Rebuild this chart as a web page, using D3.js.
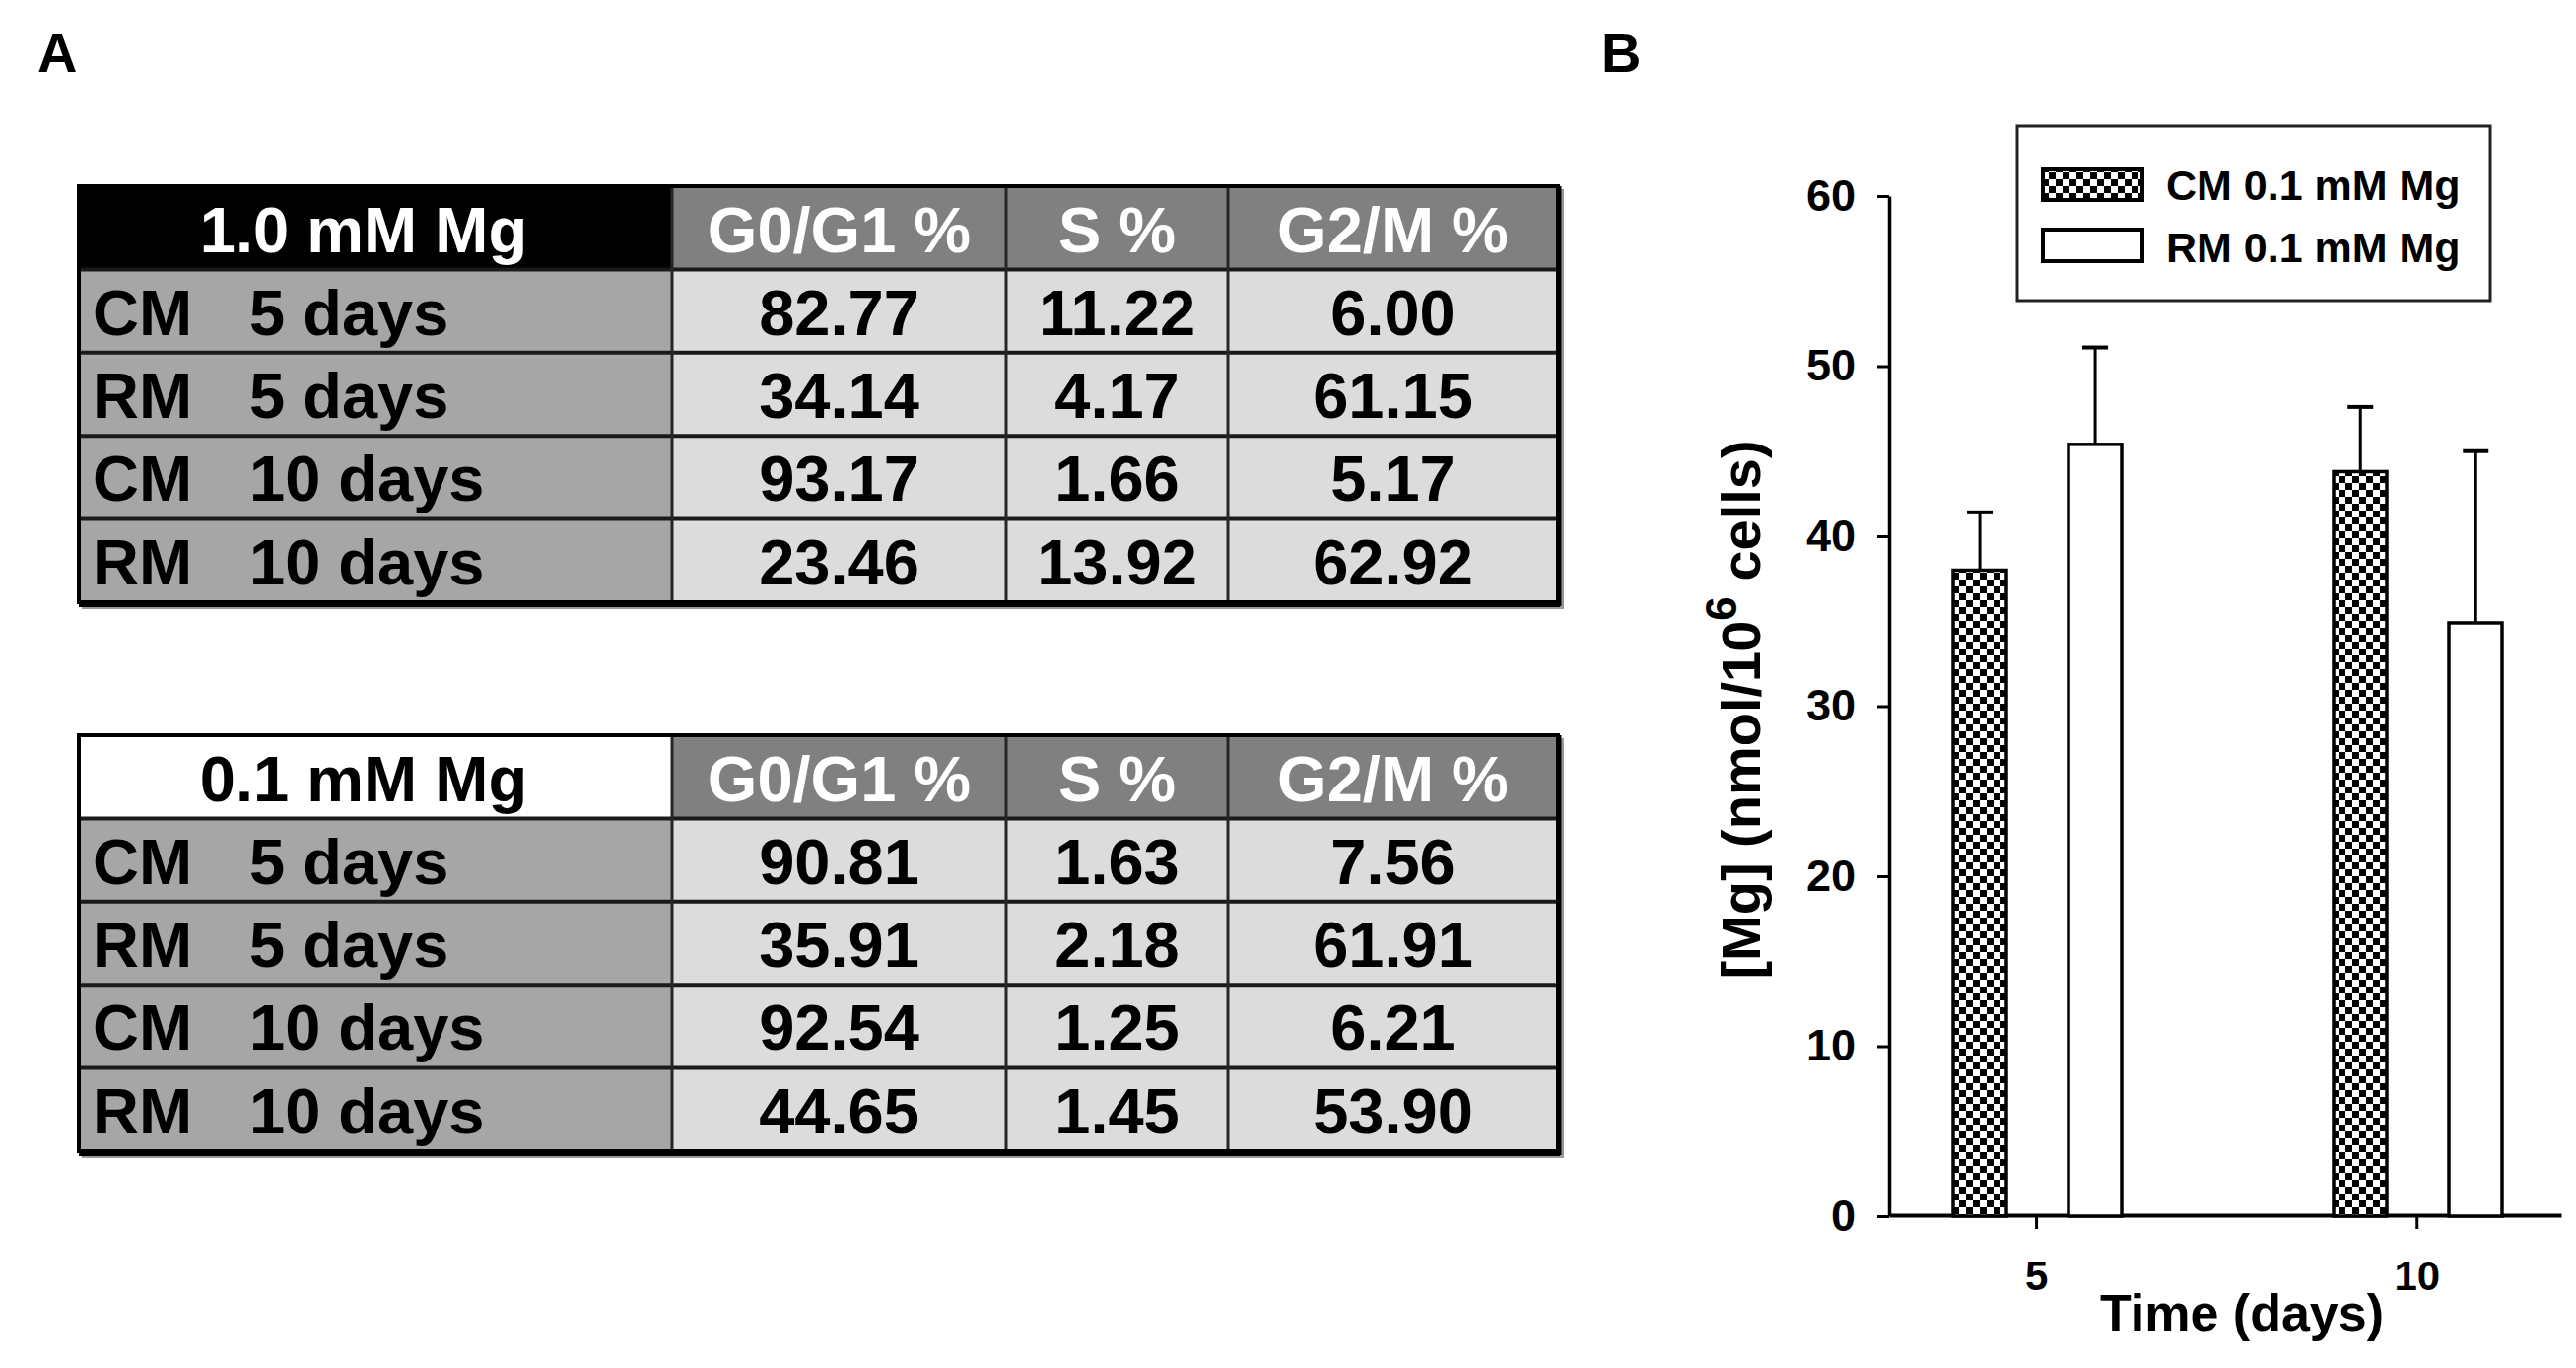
<!DOCTYPE html>
<html>
<head>
<meta charset="utf-8">
<script src="https://cdn.jsdelivr.net/npm/d3@7"></script>
<style>
  body { margin: 0; background: #fff; }
  text { font-family: "Liberation Sans", Arial, sans-serif; font-weight: bold; }
</style>
</head>
<body>
<div id="fig"></div>
<script>
// ---- panel A : cell cycle tables ----
var phaseCols = ["G0/G1 %", "S %", "G2/M %"];
var rowMedium = ["CM", "RM", "CM", "RM"];
var rowDays = ["5 days", "5 days", "10 days", "10 days"];

var title1 = "1.0 mM Mg";
var values1 = [
    [82.77, 11.22, 6.00],
    [34.14, 4.17, 61.15],
    [93.17, 1.66, 5.17],
    [23.46, 13.92, 62.92]
];

var title2 = "0.1 mM Mg";
var values2 = [
    [90.81, 1.63, 7.56],
    [35.91, 2.18, 61.91],
    [92.54, 1.25, 6.21],
    [44.65, 1.45, 53.90]
];

// ---- panel B : intracellular Mg ----
var days = [5, 10];
var series = ["CM 0.1 mM Mg", "RM 0.1 mM Mg"];
var cmMean = [38.0, 43.8];
var cmSd = [3.4, 3.8];
var rmMean = [45.4, 34.9];
var rmSd = [5.7, 10.1];
var yTicks = [0, 10, 20, 30, 40, 50, 60];

var W = 2614, H = 1388;
var fmt = d3.format(".2f");

var svg = d3.select("#fig").append("svg")
    .attr("width", W)
    .attr("height", H);

var defs = svg.append("defs");
var pat = defs.append("pattern")
    .attr("id", "checker")
    .attr("patternUnits", "userSpaceOnUse")
    .attr("width", 14)
    .attr("height", 14);
pat.append("rect").attr("width", 14).attr("height", 14).attr("fill", "#fff");
pat.append("rect").attr("width", 7).attr("height", 7).attr("fill", "#000");
pat.append("rect").attr("x", 7).attr("y", 7).attr("width", 7).attr("height", 7).attr("fill", "#000");

// panel letters
svg.append("text").attr("x", 38).attr("y", 73).style("font-size", "56px").text("A");
svg.append("text").attr("x", 1625).attr("y", 73).style("font-size", "56px").text("B");

// ---- tables ----
var colEdges = [80, 682, 1021, 1246, 1581];
var rowH = 84.4;

function drawTable(top, title, dark, values) {
    var g = svg.append("g");
    var bottom = top + rowH * 5;

    // shadow
    g.append("rect")
        .attr("x", colEdges[0] + 3).attr("y", top + 3)
        .attr("width", colEdges[4] - colEdges[0] + 3)
        .attr("height", bottom - top + 4)
        .attr("fill", "#9a9a9a");

    // header
    g.append("rect")
        .attr("x", colEdges[0]).attr("y", top)
        .attr("width", colEdges[1] - colEdges[0]).attr("height", rowH)
        .attr("fill", dark ? "#000" : "#fff");
    g.append("text")
        .attr("x", (colEdges[0] + colEdges[1]) / 2 - 12)
        .attr("y", top + rowH / 2 + 25)
        .attr("text-anchor", "middle")
        .attr("fill", dark ? "#fff" : "#000")
        .style("font-size", "65px")
        .text(title);

    phaseCols.forEach(function (c, j) {
        g.append("rect")
            .attr("x", colEdges[j + 1]).attr("y", top)
            .attr("width", colEdges[j + 2] - colEdges[j + 1]).attr("height", rowH)
            .attr("fill", "#808080");
        g.append("text")
            .attr("x", (colEdges[j + 1] + colEdges[j + 2]) / 2)
            .attr("y", top + rowH / 2 + 25)
            .attr("text-anchor", "middle")
            .attr("fill", "#fff")
            .style("font-size", "65px")
            .text(c);
    });

    // body rows
    values.forEach(function (row, i) {
        var y0 = top + rowH * (i + 1);
        g.append("rect")
            .attr("x", colEdges[0]).attr("y", y0)
            .attr("width", colEdges[1] - colEdges[0]).attr("height", rowH)
            .attr("fill", "#a6a6a6");
        g.append("text")
            .attr("x", colEdges[0] + 14).attr("y", y0 + rowH / 2 + 24)
            .style("font-size", "65px")
            .text(rowMedium[i]);
        g.append("text")
            .attr("x", colEdges[0] + 173).attr("y", y0 + rowH / 2 + 24)
            .style("font-size", "65px")
            .text(rowDays[i]);
        row.forEach(function (v, j) {
            g.append("rect")
                .attr("x", colEdges[j + 1]).attr("y", y0)
                .attr("width", colEdges[j + 2] - colEdges[j + 1]).attr("height", rowH)
                .attr("fill", "#dcdcdc");
            g.append("text")
                .attr("x", (colEdges[j + 1] + colEdges[j + 2]) / 2)
                .attr("y", y0 + rowH / 2 + 24)
                .attr("text-anchor", "middle")
                .style("font-size", "65px")
                .text(fmt(v));
        });
    });

    // grid lines
    for (var r = 1; r < 5; r++) {
        g.append("line")
            .attr("x1", colEdges[0]).attr("x2", colEdges[4])
            .attr("y1", top + rowH * r).attr("y2", top + rowH * r)
            .attr("stroke", "#1a1a1a").attr("stroke-width", 4);
    }
    for (var c = 1; c < 4; c++) {
        g.append("line")
            .attr("x1", colEdges[c]).attr("x2", colEdges[c])
            .attr("y1", top).attr("y2", bottom)
            .attr("stroke", "#262626").attr("stroke-width", 3);
    }
    g.append("rect")
        .attr("x", colEdges[0]).attr("y", top)
        .attr("width", colEdges[4] - colEdges[0]).attr("height", bottom - top)
        .attr("fill", "none")
        .attr("stroke", "#000").attr("stroke-width", 4);
    // heavier bottom / right edge
    g.append("line")
        .attr("x1", colEdges[0]).attr("x2", colEdges[4] + 2)
        .attr("y1", bottom + 2).attr("y2", bottom + 2)
        .attr("stroke", "#000").attr("stroke-width", 6);
    g.append("line")
        .attr("x1", colEdges[4] + 1).attr("x2", colEdges[4] + 1)
        .attr("y1", top).attr("y2", bottom + 4)
        .attr("stroke", "#000").attr("stroke-width", 5);
}

drawTable(189, title1, true, values1);
drawTable(746, title2, false, values2);

// ---- bar chart ----
var yScale = d3.scaleLinear()
    .domain([0, 60])
    .range([1234, 199]);

var xScale = d3.scaleLinear()
    .domain([3.07, 11.9])
    .range([1917, 2599]);

var sub = d3.scalePoint()
    .domain(series)
    .range([-57, 60]);

var barW = 54;

var yAxis = svg.append("g")
    .attr("transform", "translate(1917,0)")
    .call(d3.axisLeft(yScale).tickValues(yTicks).tickSize(12).tickSizeOuter(0).tickPadding(22));
yAxis.select(".domain").attr("stroke", "#000").attr("stroke-width", 3.5);
yAxis.selectAll(".tick line").attr("stroke", "#000").attr("stroke-width", 3);
yAxis.selectAll(".tick text")
    .attr("fill", "#000")
    .style("font-size", "45px")
    .style("font-family", "'Liberation Sans', Arial, sans-serif")
    .style("font-weight", "bold");

var xAxis = svg.append("g")
    .attr("transform", "translate(0,1233)")
    .call(d3.axisBottom(xScale).tickValues(days).tickSize(14).tickSizeOuter(0).tickPadding(32));
xAxis.select(".domain").attr("stroke", "#000").attr("stroke-width", 4);
xAxis.selectAll(".tick line").attr("stroke", "#000").attr("stroke-width", 3);
xAxis.selectAll(".tick text")
    .attr("fill", "#000")
    .style("font-size", "42px")
    .style("font-family", "'Liberation Sans', Arial, sans-serif")
    .style("font-weight", "bold");

// y title
var yt = svg.append("text")
    .attr("transform", "translate(1786,720) rotate(-90)")
    .attr("text-anchor", "middle")
    .style("font-size", "56px");
yt.append("tspan").text("[Mg] (nmol/10");
yt.append("tspan").attr("dy", -24).style("font-size", "44px").text("6");
yt.append("tspan").attr("dy", 24).text(" cells)");

// x title
svg.append("text")
    .attr("x", 2275).attr("y", 1350)
    .attr("text-anchor", "middle")
    .style("font-size", "52px")
    .text("Time (days)");

var barData = [];
days.forEach(function (d, i) {
    barData.push({ day: d, s: series[0], mean: cmMean[i], sd: cmSd[i] });
    barData.push({ day: d, s: series[1], mean: rmMean[i], sd: rmSd[i] });
});

var bars = svg.append("g");
bars.selectAll("line.err")
    .data(barData)
    .join("line")
    .attr("class", "err")
    .attr("x1", function (d) { return xScale(d.day) + sub(d.s); })
    .attr("x2", function (d) { return xScale(d.day) + sub(d.s); })
    .attr("y1", function (d) { return yScale(d.mean); })
    .attr("y2", function (d) { return yScale(d.mean + d.sd); })
    .attr("stroke", "#000").attr("stroke-width", 3);
bars.selectAll("line.cap")
    .data(barData)
    .join("line")
    .attr("class", "cap")
    .attr("x1", function (d) { return xScale(d.day) + sub(d.s) - 13; })
    .attr("x2", function (d) { return xScale(d.day) + sub(d.s) + 13; })
    .attr("y1", function (d) { return yScale(d.mean + d.sd); })
    .attr("y2", function (d) { return yScale(d.mean + d.sd); })
    .attr("stroke", "#000").attr("stroke-width", 4);
bars.selectAll("rect")
    .data(barData)
    .join("rect")
    .attr("x", function (d) { return Math.round(xScale(d.day) + sub(d.s) - barW / 2); })
    .attr("y", function (d) { return yScale(d.mean); })
    .attr("width", barW)
    .attr("height", function (d) { return yScale(0) - yScale(d.mean); })
    .attr("fill", function (d) { return d.s === series[0] ? "url(#checker)" : "#fff"; })
    .attr("stroke", "#000").attr("stroke-width", 3.5);

// legend
var leg = svg.append("g");
leg.append("rect")
    .attr("x", 2047).attr("y", 128).attr("width", 480).attr("height", 177)
    .attr("fill", "#fff").attr("stroke", "#222").attr("stroke-width", 3);
series.forEach(function (s, i) {
    leg.append("rect")
        .attr("x", 2073).attr("y", 171 + i * 62).attr("width", 101).attr("height", 32)
        .attr("fill", i === 0 ? "url(#checker)" : "#fff")
        .attr("stroke", "#000").attr("stroke-width", 4);
    leg.append("text")
        .attr("x", 2198).attr("y", 203 + i * 63)
        .style("font-size", "43px")
        .text(s);
});
</script>
</body>
</html>
